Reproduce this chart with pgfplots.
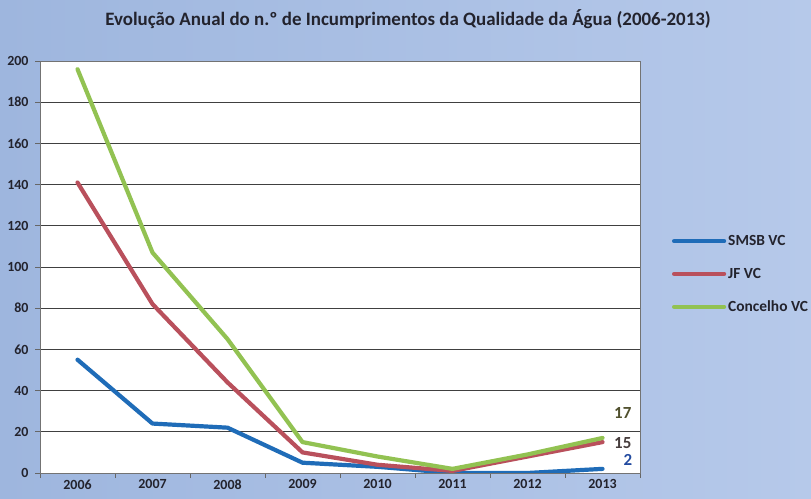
\documentclass[border=0pt]{standalone}
\usepackage{pgfplots}
\pgfplotsset{compat=1.18}
\usepackage{fontspec}
\setmainfont{Carlito}
\definecolor{bgL}{RGB}{158,182,222}
\definecolor{bgR}{RGB}{182,201,234}
\definecolor{cblue}{RGB}{31,108,184}
\definecolor{cred}{RGB}{185,80,92}
\definecolor{cgreen}{RGB}{146,194,82}
\definecolor{txt}{RGB}{35,35,45}
\begin{document}
\begin{tikzpicture}[x=1bp,y=1bp]
\useasboundingbox (0,0) rectangle (811,499);
\shade[left color=bgL, right color=bgR] (0,0) rectangle (811,499);
\node[font=\bfseries\fontsize{19}{22}\selectfont, text=txt] at (408,480) {Evolução Anual do n.º de Incumprimentos da Qualidade da Água (2006-2013)};
\begin{axis}[
  at={(40bp,26bp)}, anchor=south west, scale only axis,
  width=600bp, height=412bp,
  xmin=0, xmax=8, ymin=0, ymax=200,
  ytick={0,20,...,200},
  yticklabels={\textbf{0},\textbf{20},\textbf{40},\textbf{60},\textbf{80},\textbf{100},\textbf{120},\textbf{140},\textbf{160},\textbf{180},\textbf{200}},
  xtick={0,...,8}, xticklabels={},
  extra x ticks={0.5,1.5,...,7.5},
  extra x tick labels={\textbf{2006},\textbf{2007},\textbf{2008},\textbf{2009},\textbf{2010},\textbf{2011},\textbf{2012},\textbf{2013}},
  extra x tick style={major tick length=0pt, grid=none},
  tick align=outside, tick pos=left, major tick length=5bp,
  ymajorgrids, major grid style={black!75, line width=0.6bp},
  axis line style={black!55, line width=0.6bp},
  tick style={black!60, line width=0.6bp},
  axis background/.style={fill=white},
  ticklabel style={font=\bfseries\fontsize{14}{16}\selectfont, text=txt},
  xticklabel style={yshift=-3bp},
  yticklabel style={xshift=-3bp},
  legend style={at={(1.053,0.582)}, anchor=north west, draw=none, fill=none,
    font=\bfseries\fontsize{15.5}{18}\selectfont, text=txt, row sep=17bp,
    inner sep=0pt},
  legend cell align=left,
  legend image code/.code={\draw[#1] (0bp,0bp) -- (50bp,0bp);},
  every axis plot/.append style={line width=4.2bp, line join=round, line cap=round},
]
\addplot[cblue] coordinates {(0.5,55) (1.5,24) (2.5,22) (3.5,5) (4.5,3) (5.5,0) (6.5,0) (7.5,2)};
\addlegendentry{SMSB VC}
\addplot[cred] coordinates {(0.5,141) (1.5,82) (2.5,44) (3.5,10) (4.5,4) (5.5,1) (6.5,8) (7.5,15)};
\addlegendentry{JF VC}
\addplot[cgreen] coordinates {(0.5,196) (1.5,107) (2.5,65) (3.5,15) (4.5,8) (5.5,2) (6.5,9) (7.5,17)};
\addlegendentry{Concelho VC}
\node[font=\bfseries\fontsize{17}{20}\selectfont, text={rgb,255:red,80;green,80;blue,45}] at (axis cs:7.77,29.1) {17};
\node[font=\bfseries\fontsize{17}{20}\selectfont, text={rgb,255:red,70;green,60;blue,60}] at (axis cs:7.77,14.6) {15};
\node[font=\bfseries\fontsize{17}{20}\selectfont, text={rgb,255:red,35;green,75;blue,160}] at (axis cs:7.84,6.3) {2};
\end{axis}
\end{tikzpicture}
\end{document}
